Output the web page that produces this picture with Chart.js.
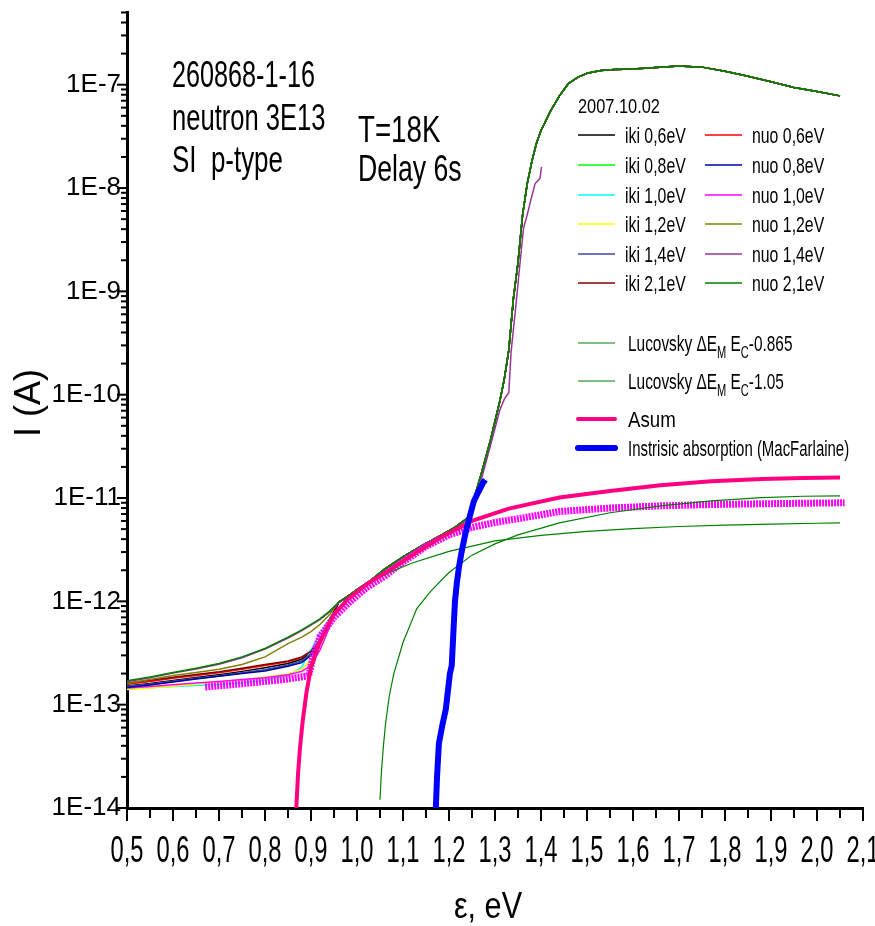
<!DOCTYPE html>
<html>
<head>
<meta charset="utf-8">
<script src="https://cdn.jsdelivr.net/npm/chart.js@4.4.1/dist/chart.umd.min.js"></script>
<style>
  html, body { margin: 0; padding: 0; background: #fff; }
</style>
</head>
<body>
<canvas id="iChart" width="875" height="926"></canvas>
<script>

// ---- data (energy in eV, current in A) ----

// low-energy part, where the 12 spectra separate
const energyLow = [0.50, 0.55, 0.60, 0.65, 0.70, 0.75, 0.80, 0.85, 0.88, 0.90, 0.92, 0.94];
const iki06Low = [1.52e-13, 1.60e-13, 1.71e-13, 1.83e-13, 1.95e-13, 2.10e-13, 2.28e-13, 2.50e-13, 2.75e-13, 3.20e-13, 4.20e-13, 6.30e-13];
const iki08Low = [1.49e-13, 1.57e-13, 1.67e-13, 1.78e-13, 1.89e-13, 2.02e-13, 2.15e-13, 2.38e-13, 2.60e-13, 3.05e-13, 4.00e-13, 6.10e-13];
const iki10Low = [1.43e-13, 1.46e-13, 1.50e-13, 1.53e-13, 1.57e-13, 1.62e-13, 1.72e-13, 1.92e-13, 2.30e-13, 3.40e-13, 4.90e-13, 6.80e-13];
const iki12Low = [1.40e-13, 1.45e-13, 1.51e-13, 1.58e-13, 1.65e-13, 1.73e-13, 1.85e-13, 1.98e-13, 2.20e-13, 2.70e-13, 3.70e-13, 5.80e-13];
const iki14Low = [1.50e-13, 1.58e-13, 1.69e-13, 1.80e-13, 1.91e-13, 2.04e-13, 2.18e-13, 2.42e-13, 2.65e-13, 3.10e-13, 4.10e-13, 6.20e-13];
const iki21Low = [1.62e-13, 1.72e-13, 1.84e-13, 1.96e-13, 2.08e-13, 2.25e-13, 2.45e-13, 2.65e-13, 2.90e-13, 3.30e-13, 4.20e-13, 6.50e-13];
const nuo06Low = [1.58e-13, 1.68e-13, 1.80e-13, 1.92e-13, 2.04e-13, 2.20e-13, 2.40e-13, 2.60e-13, 2.85e-13, 3.25e-13, 4.20e-13, 6.40e-13];
const nuo08Low = [1.47e-13, 1.55e-13, 1.66e-13, 1.77e-13, 1.88e-13, 2.00e-13, 2.12e-13, 2.35e-13, 2.55e-13, 3.00e-13, 3.90e-13, 6.00e-13];
const nuo10Low = [1.45e-13, 1.50e-13, 1.56e-13, 1.62e-13, 1.68e-13, 1.75e-13, 1.82e-13, 1.95e-13, 2.10e-13, 2.40e-13, 3.40e-13, 5.60e-13];
const nuo12Low = [1.60e-13, 1.75e-13, 1.92e-13, 2.05e-13, 2.20e-13, 2.45e-13, 2.90e-13, 3.90e-13, 4.50e-13, 5.10e-13, 6.00e-13, 7.40e-13];
const nuo14Low = [1.67e-13, 1.82e-13, 2.02e-13, 2.22e-13, 2.46e-13, 2.85e-13, 3.45e-13, 4.40e-13, 5.20e-13, 5.90e-13, 6.70e-13, 7.90e-13];
const nuo21Low = [1.70e-13, 1.85e-13, 2.05e-13, 2.25e-13, 2.50e-13, 2.90e-13, 3.50e-13, 4.50e-13, 5.30e-13, 6.00e-13, 6.80e-13, 8.00e-13];

// above ~0.96 eV all spectra lie on one curve
const energyHigh = [0.96, 0.98, 1.00, 1.03, 1.06, 1.10, 1.14, 1.18, 1.21, 1.24,
                    1.25, 1.27, 1.29, 1.31, 1.32, 1.33, 1.34, 1.35, 1.36, 1.37,
                    1.38, 1.39, 1.40, 1.42, 1.44, 1.46, 1.48, 1.50, 1.53, 1.56,
                    1.60, 1.65, 1.70, 1.75, 1.80, 1.85, 1.90, 1.95, 2.00, 2.05];
const currentHigh = [9.8e-13, 1.12e-12, 1.30e-12, 1.60e-12, 2.05e-12, 2.70e-12, 3.45e-12, 4.30e-12, 5.10e-12, 6.40e-12,
                     8.5e-12, 1.7e-11, 3.6e-11, 8.5e-11, 1.4e-10, 2.7e-10, 8.5e-10, 1.9e-9, 5.5e-9, 1.1e-8,
                     1.8e-8, 2.7e-8, 3.6e-8, 5.5e-8, 7.8e-8, 1.03e-7, 1.18e-7, 1.29e-7, 1.37e-7, 1.40e-7,
                     1.42e-7, 1.47e-7, 1.52e-7, 1.48e-7, 1.35e-7, 1.21e-7, 1.07e-7, 9.4e-8, 8.6e-8, 7.8e-8];

// nuo 1,4eV stops at 1.40 eV and lags in the rise
const energyNuo14High = [0.96, 0.98, 1.00, 1.03, 1.06, 1.10, 1.14, 1.18, 1.21, 1.24, 1.25, 1.27, 1.29,
                         1.31, 1.32, 1.33, 1.335, 1.345, 1.355, 1.362, 1.37, 1.377, 1.387, 1.395, 1.398, 1.401];
const currentNuo14High = [9.7e-13, 1.10e-12, 1.28e-12, 1.58e-12, 2.0e-12, 2.65e-12, 3.4e-12, 4.25e-12, 5.0e-12, 6.2e-12, 8.0e-12, 1.5e-11, 3.2e-11,
                          7.0e-11, 9.0e-11, 1.05e-10, 2.6e-10, 7.0e-10, 2.0e-9, 4.1e-9, 5.5e-9, 7.4e-9, 1.1e-8, 1.2e-8, 1.25e-8, 1.6e-8];

// magenta symbol curve
const energyBand = [0.67, 0.72, 0.78, 0.84, 0.895, 0.905, 0.92, 0.95, 0.98, 1.02, 1.06, 1.10,
                    1.15, 1.20, 1.25, 1.30, 1.35, 1.44, 1.55, 1.66, 1.77, 1.88, 1.97, 2.06];
const currentBand = [1.48e-13, 1.55e-13, 1.64e-13, 1.75e-13, 1.90e-13, 3.0e-13, 4.6e-13, 7.0e-13, 9.5e-13, 1.35e-12, 1.75e-12, 2.4e-12,
                     3.4e-12, 4.4e-12, 5.2e-12, 5.8e-12, 6.3e-12, 7.4e-12, 8.0e-12, 8.4e-12, 8.65e-12, 8.8e-12, 8.9e-12, 9.0e-12];

// Lucovsky model curves
const energyLucA = [0.865, 0.868, 0.872, 0.876, 0.882, 0.89, 0.90, 0.92, 0.95, 0.98, 1.02, 1.07,
                    1.12, 1.20, 1.30, 1.40, 1.50, 1.60, 1.70, 1.80, 1.90, 2.00, 2.05];
const currentLucA = [8e-15, 1.0e-14, 2.2e-14, 3.8e-14, 7.0e-14, 1.3e-13, 2.3e-13, 4.2e-13, 7.5e-13, 1.05e-12, 1.45e-12, 1.9e-12,
                     2.35e-12, 3.05e-12, 3.85e-12, 4.35e-12, 4.75e-12, 5.05e-12, 5.3e-12, 5.47e-12, 5.6e-12, 5.7e-12, 5.75e-12];
const energyLucB = [1.05, 1.053, 1.057, 1.062, 1.07, 1.08, 1.10, 1.13, 1.16, 1.20,
                    1.25, 1.30, 1.35, 1.44, 1.55, 1.66, 1.77, 1.88, 1.97, 2.05];
const currentLucB = [1.2e-14, 2.2e-14, 3.8e-14, 6.5e-14, 1.2e-13, 2.0e-13, 4.0e-13, 8.5e-13, 1.25e-12, 1.9e-12,
                     2.8e-12, 3.6e-12, 4.4e-12, 5.75e-12, 7.2e-12, 8.4e-12, 9.4e-12, 1.01e-11, 1.04e-11, 1.05e-11];

// Asum
const energyAsum = [0.864, 0.868, 0.872, 0.876, 0.882, 0.89, 0.90, 0.92, 0.95, 0.98, 1.02, 1.07,
                    1.12, 1.18, 1.25, 1.33, 1.44, 1.55, 1.66, 1.77, 1.88, 1.97, 2.05];
const currentAsum = [8e-15, 1.0e-14, 2.2e-14, 3.8e-14, 7.0e-14, 1.3e-13, 2.3e-13, 4.2e-13, 7.5e-13, 1.05e-12, 1.45e-12, 2.0e-12,
                     2.8e-12, 4.1e-12, 6.0e-12, 7.9e-12, 1.01e-11, 1.17e-11, 1.33e-11, 1.45e-11, 1.53e-11, 1.56e-11, 1.58e-11];

// intrinsic absorption (MacFarlane)
const energyMF = [1.170, 1.174, 1.178, 1.186, 1.193, 1.202, 1.206, 1.210, 1.213,
                  1.217, 1.222, 1.228, 1.236, 1.245, 1.254, 1.264, 1.274, 1.279];
const currentMF = [7e-15, 2.0e-14, 4.2e-14, 6.5e-14, 9.0e-14, 2.0e-13, 2.4e-13, 5.5e-13, 1.0e-12,
                   1.5e-12, 2.2e-12, 3.1e-12, 4.6e-12, 6.6e-12, 9.3e-12, 1.15e-11, 1.4e-11, 1.5e-11];

// ---- helpers ----
const FONT = '"Liberation Sans", Arial, Helvetica, sans-serif';

function pts(energies, currents) {
    return energies.map((e, i) => ({x: e, y: currents[i]}));
}
function spectrum(low, highE, highI) {
    return pts(energyLow, low).concat(pts(highE || energyHigh, highI || currentHigh));
}
function isDecade(v) {
    const m = v / Math.pow(10, Math.round(Math.log10(v)));
    return Math.abs(m - 1) < 1e-6;
}

function line(label, data, color, width, order) {
    return {
        label: label,
        data: data,
        borderColor: color,
        backgroundColor: color,
        borderWidth: width,
        pointRadius: 0,
        fill: false,
        tension: 0,
        order: order
    };
}

const band = line('nuo 1,0eV sym', pts(energyBand, currentBand), '#ff00ff', 7, 3);
band.borderDash = [2, 1];

const datasets = [
    line('Instrisic absorption (MacFarlaine)', pts(energyMF, currentMF), '#0000ff', 6, 0),
    line('Asum', pts(energyAsum, currentAsum), '#ff0080', 4, 1),
    line('Lucovsky A', pts(energyLucA, currentLucA), '#008000', 1.2, 2),
    line('Lucovsky B', pts(energyLucB, currentLucB), '#008000', 1.2, 2),
    band,
    line('nuo 2,1eV', spectrum(nuo21Low), '#008000', 1.5, 10),
    line('nuo 1,4eV', spectrum(nuo14Low, energyNuo14High, currentNuo14High), '#993399', 1.5, 11),
    line('nuo 1,2eV', spectrum(nuo12Low), '#808000', 1.5, 12),
    line('iki 2,1eV', spectrum(iki21Low), '#800000', 1.5, 13),
    line('nuo 0,8eV', spectrum(nuo08Low), '#0000aa', 1.5, 14),
    line('iki 1,4eV', spectrum(iki14Low), '#4646a6', 1.5, 15),
    line('nuo 1,0eV', spectrum(nuo10Low), '#ff00ff', 1.5, 16),
    line('iki 1,2eV', spectrum(iki12Low), '#ffff00', 1.5, 17),
    line('iki 1,0eV', spectrum(iki10Low), '#00ffff', 1.5, 18),
    line('iki 0,8eV', spectrum(iki08Low), '#00ff00', 1.5, 19),
    line('iki 0,6eV', spectrum(iki06Low), '#000000', 1.5, 20),
    line('nuo 0,6eV', spectrum(nuo06Low), '#ff0000', 1.5, 21)
];

// condensed text, the original export squeezes its glyphs
function drawText(ctx, text, x, y, size, sx, align) {
    ctx.save();
    ctx.font = size + 'px ' + FONT;
    ctx.textAlign = 'left';
    ctx.textBaseline = 'alphabetic';
    const w = ctx.measureText(text).width * sx;
    let x0 = x;
    if (align === 'center') x0 = x - w / 2;
    if (align === 'right') x0 = x - w;
    ctx.translate(x0, y);
    ctx.scale(sx, 1);
    ctx.fillStyle = '#000';
    ctx.fillText(text, 0, 0);
    ctx.restore();
    return w;
}

function drawSubText(ctx, parts, x, y, size, sx) {
    let cx = x;
    parts.forEach(p => {
        if (p.sub) cx += drawText(ctx, p.t, cx, y + 7, size * 0.72, sx);
        else cx += drawText(ctx, p.t, cx, y, size, sx);
    });
}

function legendLine(ctx, color, x1, x2, y, width) {
    ctx.save();
    ctx.strokeStyle = color;
    ctx.lineWidth = width;
    ctx.lineCap = width > 3 ? 'round' : 'butt';
    ctx.beginPath();
    ctx.moveTo(x1, y);
    ctx.lineTo(x2, y);
    ctx.stroke();
    ctx.restore();
}

const decor = {
    id: 'decor',
    afterDraw(chart) {
        const ctx = chart.ctx;
        const xs = chart.scales.x;
        const ys = chart.scales.y;
        const area = chart.chartArea;

        // tick marks
        ctx.save();
        ctx.strokeStyle = '#000';
        ctx.lineWidth = 2;
        ys.ticks.forEach(t => {
            const py = ys.getPixelForValue(t.value);
            const len = isDecade(t.value) ? 10 : 6;
            ctx.beginPath();
            ctx.moveTo(area.left - len, py);
            ctx.lineTo(area.left, py);
            ctx.stroke();
        });
        xs.ticks.forEach(t => {
            const px = xs.getPixelForValue(t.value);
            const major = Math.abs(t.value * 10 - Math.round(t.value * 10)) < 1e-6;
            ctx.beginPath();
            ctx.moveTo(px, area.bottom);
            ctx.lineTo(px, area.bottom + (major ? 13 : 10));
            ctx.stroke();
            if (major) {
                drawText(ctx, t.value.toFixed(1).replace('.', ','), px, 862, 36, 0.66, 'center');
            }
        });
        ctx.restore();

        // axis titles
        drawText(ctx, '\u03b5, eV', 488, 918, 36, 0.85, 'center');
        ctx.save();
        ctx.translate(40, 403);
        ctx.rotate(-Math.PI / 2);
        drawText(ctx, 'I (A)', 0, 0, 36, 1, 'center');
        ctx.restore();

        // sample notes
        drawText(ctx, '260868-1-16', 172, 87, 36, 0.70);
        drawText(ctx, 'neutron 3E13', 172, 130, 36, 0.71);
        drawText(ctx, 'SI  p-type', 172, 172, 36, 0.72);
        drawText(ctx, 'T=18K', 358, 142, 36, 0.77);
        drawText(ctx, 'Delay 6s', 358, 181, 36, 0.74);

        // legend
        const byLabel = {};
        chart.data.datasets.forEach(d => { byLabel[d.label] = d; });
        drawText(ctx, '2007.10.02', 578, 113, 21, 0.78);
        const rowsY = [135, 165, 195, 224, 254, 283];
        const ikiCol = ['iki 0,6eV', 'iki 0,8eV', 'iki 1,0eV', 'iki 1,2eV', 'iki 1,4eV', 'iki 2,1eV'];
        const nuoCol = ['nuo 0,6eV', 'nuo 0,8eV', 'nuo 1,0eV', 'nuo 1,2eV', 'nuo 1,4eV', 'nuo 2,1eV'];
        rowsY.forEach((y, i) => {
            legendLine(ctx, byLabel[ikiCol[i]].borderColor, 578, 615, y, 1.5);
            drawText(ctx, ikiCol[i], 625, y + 8, 22, 0.72);
            legendLine(ctx, byLabel[nuoCol[i]].borderColor, 705, 742, y, 1.5);
            drawText(ctx, nuoCol[i], 752, y + 8, 22, 0.72);
        });
        legendLine(ctx, '#008000', 578, 615, 343, 1.2);
        drawSubText(ctx, [{t: 'Lucovsky \u0394E'}, {t: 'M', sub: true}, {t: ' E'}, {t: 'C', sub: true}, {t: '-0.865'}], 628, 351, 22, 0.70);
        legendLine(ctx, '#008000', 578, 615, 381, 1.2);
        drawSubText(ctx, [{t: 'Lucovsky \u0394E'}, {t: 'M', sub: true}, {t: ' E'}, {t: 'C', sub: true}, {t: '-1.05'}], 628, 389, 22, 0.70);
        legendLine(ctx, '#ff0080', 578, 615, 419, 4);
        drawText(ctx, 'Asum', 628, 427, 22, 0.85);
        legendLine(ctx, '#0000ff', 578, 615, 448, 6);
        drawText(ctx, 'Instrisic absorption (MacFarlaine)', 628, 456, 22, 0.68);
    }
};

const iChart = new Chart(document.getElementById('iChart').getContext('2d'), {
    type: 'line',
    data: { datasets: datasets },
    options: {
        responsive: false,
        animation: false,
        events: [],
        layout: { padding: { top: 12, right: 12, left: 0, bottom: 0 } },
        plugins: {
            legend: { display: false },
            tooltip: { enabled: false }
        },
        scales: {
            x: {
                type: 'linear',
                min: 0.5,
                max: 2.1,
                grid: { display: false, drawTicks: false },
                border: { display: true, color: '#000', width: 3 },
                ticks: { display: false, stepSize: 0.05 },
                afterFit: (scale) => { scale.height = 118; }
            },
            y: {
                type: 'logarithmic',
                min: 1e-14,
                max: 5e-7,
                grid: { display: false, drawTicks: false },
                border: { display: true, color: '#000', width: 3 },
                ticks: {
                    autoSkip: false,
                    padding: 6,
                    color: '#000',
                    font: { family: FONT, size: 26, lineHeight: 0.5 },
                    callback: (v) => isDecade(v) ? '1E' + Math.round(Math.log10(v)) : ''
                },
                afterBuildTicks: (axis) => {
                    axis.ticks = axis.ticks.filter(t => {
                        const m = t.value / Math.pow(10, Math.floor(Math.log10(t.value) + 1e-9));
                        return Math.abs(m - Math.round(m)) < 1e-6;
                    });
                },
                afterFit: (scale) => { scale.width = 127; }
            }
        }
    },
    plugins: [decor]
});
</script>
</body>
</html>
